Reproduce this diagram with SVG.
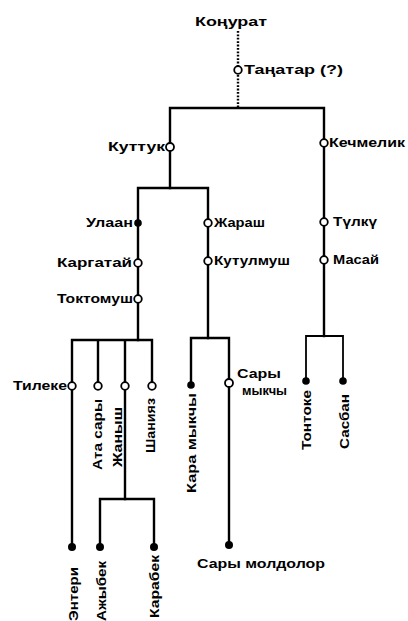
<svg xmlns="http://www.w3.org/2000/svg" width="408" height="621" viewBox="0 0 408 621">
<style>
.ln{stroke:#000;stroke-width:2.4;fill:none;stroke-linecap:square}
.thin{stroke-width:1.8}
.dot{stroke:#000;stroke-width:2.4;stroke-dasharray:1.8 1.6;fill:none}
.o{fill:#fff;stroke:#000;stroke-width:1.8}
.f{fill:#000}
text{font-family:"Liberation Sans","DejaVu Sans",sans-serif;font-weight:bold;font-size:12px;fill:#000}
.big{font-size:13.5px}
</style>
<rect width="408" height="621" fill="#fff"/>
<g id="connectors">
<line class="dot" x1="238" y1="31" x2="238" y2="66"/>
<line class="dot" x1="238" y1="75" x2="238" y2="107"/>
<path class="ln" d="M170 188 V108 H324 V336"/>
<path class="ln" d="M138 340 V188 H208 V338"/>
<path class="ln" d="M72 547 V340 H152 V386 M98 340 V386 M125 340 V499"/>
<path class="ln" d="M100 547 V499 H154 V547"/>
<path class="ln" d="M191 385 V338 H229 V545"/>
<path class="ln thin" d="M306 381 V336 H343 V381"/>
</g>
<g id="n-konurat"><text x="195" y="26" textLength="72" lengthAdjust="spacingAndGlyphs" class="big">Коңурат</text></g>
<g id="n-tanatar"><circle class="o" cx="238" cy="70" r="3.8"/><text x="244" y="74" textLength="99" lengthAdjust="spacingAndGlyphs">Таңатар  (?)</text></g>
<g id="n-kuttuk"><circle class="o" cx="170" cy="147" r="4"/><text x="108" y="151" textLength="57" lengthAdjust="spacingAndGlyphs">Куттук</text></g>
<g id="n-kechmelik"><circle class="o" cx="324" cy="143" r="3.8"/><text x="329" y="147" textLength="76" lengthAdjust="spacingAndGlyphs">Кечмелик</text></g>
<g id="n-ulaan"><circle class="f" cx="138" cy="223" r="3.8"/><text x="86" y="227" textLength="47" lengthAdjust="spacingAndGlyphs">Улаан</text></g>
<g id="n-kargatai"><circle class="o" cx="138" cy="263" r="3.8"/><text x="57" y="267" textLength="75" lengthAdjust="spacingAndGlyphs">Каргатай</text></g>
<g id="n-toktomush"><circle class="o" cx="138" cy="299" r="3.8"/><text x="57" y="303" textLength="76" lengthAdjust="spacingAndGlyphs">Токтомуш</text></g>
<g id="n-zharash"><circle class="o" cx="208" cy="223" r="3.8"/><text x="214" y="227" textLength="51" lengthAdjust="spacingAndGlyphs">Жараш</text></g>
<g id="n-kutulmush"><circle class="o" cx="208" cy="261" r="3.8"/><text x="214" y="265" textLength="76" lengthAdjust="spacingAndGlyphs">Кутулмуш</text></g>
<g id="n-tulku"><circle class="o" cx="324" cy="222" r="3.8"/><text x="333" y="226" textLength="44" lengthAdjust="spacingAndGlyphs">Түлкү</text></g>
<g id="n-masai"><circle class="o" cx="324" cy="260" r="3.8"/><text x="333" y="264" textLength="46" lengthAdjust="spacingAndGlyphs">Масай</text></g>
<g id="n-tileke"><circle class="o" cx="72" cy="386" r="3.8"/><text x="13" y="390" textLength="54" lengthAdjust="spacingAndGlyphs">Тилеке</text></g>
<g id="n-atasary"><circle class="o" cx="98" cy="386" r="3.8"/><text transform="translate(102,470) rotate(-90)" textLength="71" lengthAdjust="spacingAndGlyphs">Ата  сары</text></g>
<g id="n-zhanysh"><circle class="o" cx="125" cy="386" r="3.8"/><text transform="translate(122,467) rotate(-90)" textLength="60" lengthAdjust="spacingAndGlyphs">Жаныш</text></g>
<g id="n-shaniyaz"><circle class="o" cx="152" cy="386" r="3.8"/><text transform="translate(155,453) rotate(-90)" textLength="55" lengthAdjust="spacingAndGlyphs">Шанияз</text></g>
<g id="n-karamykchy"><circle class="f" cx="191" cy="385" r="3.8"/><text transform="translate(196,493) rotate(-90)" textLength="100" lengthAdjust="spacingAndGlyphs">Кара  мыкчы</text></g>
<g id="n-sarymykchy"><circle class="o" cx="229" cy="383" r="4"/><text x="237" y="378" textLength="44" lengthAdjust="spacingAndGlyphs">Сары</text><text x="242" y="395" textLength="45" lengthAdjust="spacingAndGlyphs">мыкчы</text></g>
<g id="n-sarymoldolor"><circle class="f" cx="229" cy="545" r="4"/><text x="197" y="568" textLength="128" lengthAdjust="spacingAndGlyphs" class="big">Сары  молдолор</text></g>
<g id="n-tontoke"><circle class="f" cx="306" cy="381" r="3.8"/><text transform="translate(310.5,450) rotate(-90)" textLength="60" lengthAdjust="spacingAndGlyphs">Тонтоке</text></g>
<g id="n-sasban"><circle class="f" cx="343" cy="381" r="3.8"/><text transform="translate(349,449) rotate(-90)" textLength="55" lengthAdjust="spacingAndGlyphs" class="big">Сасбан</text></g>
<g id="n-enteri"><circle class="f" cx="72" cy="547" r="4"/><text transform="translate(78,621) rotate(-90)" textLength="54" lengthAdjust="spacingAndGlyphs">Энтери</text></g>
<g id="n-azhybek"><circle class="f" cx="100" cy="547" r="4"/><text transform="translate(106,621) rotate(-90)" textLength="60" lengthAdjust="spacingAndGlyphs">Ажыбек</text></g>
<g id="n-karabek"><circle class="f" cx="154" cy="547" r="4"/><text transform="translate(158.5,618) rotate(-90)" textLength="63" lengthAdjust="spacingAndGlyphs" class="big">Карабек</text></g>
</svg>
